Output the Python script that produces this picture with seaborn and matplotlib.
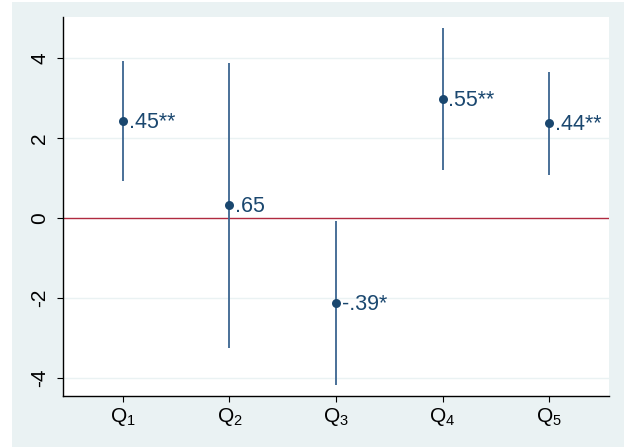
import matplotlib
matplotlib.use("Agg")
import matplotlib.pyplot as plt
import numpy as np
import pandas as pd
import seaborn as sns
from matplotlib.patches import Rectangle

# values
quintiles = ["Q$_1$", "Q$_2$", "Q$_3$", "Q$_4$", "Q$_5$"]
estimates = [2.43, 0.33, -2.13, 2.98, 2.38]
ci_low = [0.93, -3.25, -4.18, 1.20, 1.08]
ci_high = [3.93, 3.88, -0.07, 4.75, 3.65]
point_labels = [".45**", ".65", "-.39*", ".55**", ".44**"]
y_ticks = [-4, -2, 0, 2, 4]

NAVY = "#1a476f"
LINE = "#3a6590"
BG = "#eaf2f3"
RED = "#b02a40"

sns.set_theme(style="white")
plt.rcParams["font.family"] = ["Liberation Sans", "DejaVu Sans"]
plt.rcParams["mathtext.fontset"] = "custom"
plt.rcParams["mathtext.rm"] = "Liberation Sans"
plt.rcParams["mathtext.it"] = "Liberation Sans"

df = pd.DataFrame({
    "pos": np.arange(1, len(quintiles) + 1),
    "est": estimates,
    "lo": ci_low,
    "hi": ci_high,
    "label": point_labels,
})

fig = plt.figure(figsize=(6.24, 4.47), dpi=100)
fig.patch.set_facecolor("white")
fig.patches.append(Rectangle((12 / 624, 0), 1 - 12 / 624, 445 / 447, transform=fig.transFigure,
                             facecolor=BG, edgecolor="none", zorder=-10))
ax = fig.add_axes([63 / 624, 51 / 447, 546 / 624, 379 / 447])
ax.set_facecolor("white")

for yv in y_ticks:
    if yv != 0:
        ax.axhline(yv, color=BG, lw=1.0, zorder=0)
ax.axhline(0, color=RED, lw=1.0, zorder=1)

ax.vlines(df["pos"], df["lo"], df["hi"], color=LINE, lw=1.3, zorder=2)
sns.scatterplot(data=df, x="pos", y="est", color=NAVY, s=42, edgecolor=NAVY, linewidth=0,
                zorder=3, ax=ax, legend=False)
for _, r in df.iterrows():
    ax.annotate(r["label"], (r["pos"], r["est"]), xytext=(4, -1), textcoords="offset points",
                ha="left", va="center", fontsize=15.5, color=NAVY)

ax.set_xlim(0.437, 5.563)
ax.set_ylim(-4.45, 5.03)
ax.set_xticks(df["pos"])
ax.set_xticklabels(quintiles, fontsize=15, color="black")
ax.set_yticks(y_ticks)
ax.set_yticklabels([str(v) for v in y_ticks], fontsize=15, rotation=90, va="center", color="black")
ax.set_xlabel("")
ax.set_ylabel("")

for side in ["top", "right"]:
    ax.spines[side].set_visible(False)
for side in ["left", "bottom"]:
    ax.spines[side].set_color("black")
    ax.spines[side].set_linewidth(1.0)
ax.tick_params(axis="both", direction="out", length=4, width=0.8, color="black", left=True, bottom=True)
ax.tick_params(axis="y", pad=6)
ax.tick_params(axis="x", pad=3)

fig.savefig("out.png", dpi=100)
